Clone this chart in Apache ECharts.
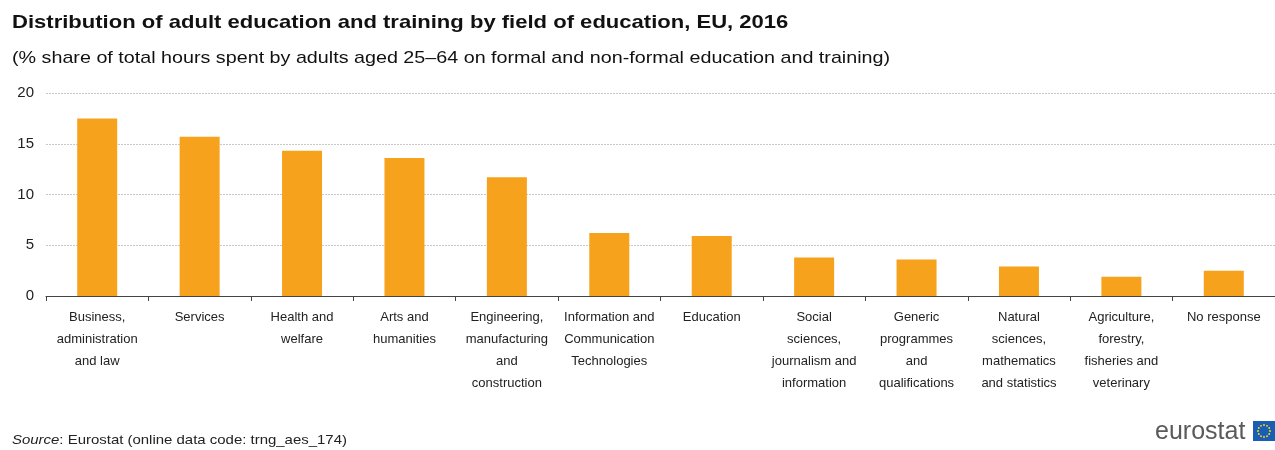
<!DOCTYPE html>
<html>
<head>
<meta charset="utf-8">
<script src="https://cdn.jsdelivr.net/npm/echarts@6/dist/echarts.min.js"></script>
<style>
html,body{margin:0;padding:0;background:#fff;}
#chart{width:1275px;height:450px;}
</style>
</head>
<body>
<div id="chart"></div>
<script>
// categories and values (% share of total hours)
var fields = [
	'Business,\nadministration\nand law',
	'Services',
	'Health and\nwelfare',
	'Arts and\nhumanities',
	'Engineering,\nmanufacturing\nand\nconstruction',
	'Information and\nCommunication\nTechnologies',
	'Education',
	'Social\nsciences,\njournalism and\ninformation',
	'Generic\nprogrammes\nand\nqualifications',
	'Natural\nsciences,\nmathematics\nand statistics',
	'Agriculture,\nforestry,\nfisheries and\nveterinary',
	'No response'
];
var shares = [17.5, 15.7, 14.3, 13.6, 11.7, 6.2, 5.9, 3.8, 3.6, 2.9, 1.9, 2.5];
var yTicks = [0, 5, 10, 15, 20];

var fnt = "'Liberation Sans',Arial,sans-serif";

// EU flag stars round a circle
var stars = [];
for (var i = 0; i < 12; i++) {
	var a = i * Math.PI / 6;
	stars.push({
		type: 'circle',
		shape: {cx: 1264 + 6 * Math.cos(a), cy: 431 + 6 * Math.sin(a), r: 0.9},
		style: {fill: '#ffe500'}
	});
}

var myChar = echarts.init(document.getElementById('chart'));
var option = {
	backgroundColor: '#fff',
	animation: false,
	grid: {
		left: 46,
		right: 0,
		top: 93,
		bottom: 154
	},
	xAxis: {
		type: 'category',
		data: fields,
		axisLine: {lineStyle: {color: '#444', width: 1}},
		axisTick: {show: true, length: 5, lineStyle: {color: '#444'}},
		axisLabel: {
			interval: 0,
			margin: 10,
			fontFamily: fnt,
			fontSize: 13,
			lineHeight: 22,
			color: '#222'
		}
	},
	yAxis: {
		type: 'value',
		min: yTicks[0],
		max: yTicks[yTicks.length - 1],
		interval: 5,
		axisLine: {show: false},
		axisTick: {show: false},
		axisLabel: {
			margin: 12,
			fontFamily: fnt,
			fontSize: 15,
			color: '#222'
		},
		splitLine: {lineStyle: {color: '#c8c8c8', type: [2, 1], width: 1}}
	},
	series: [
		{
			name: 'Share',
			type: 'bar',
			data: shares,
			barWidth: 40,
			itemStyle: {color: '#f6a21c'}
		}
	],
	graphic: [
		{
			type: 'text',
			x: 12, y: 13, scaleX: 1.16,
			style: {
				text: 'Distribution of adult education and training by field of education, EU, 2016',
				font: "bold 19px 'Liberation Sans',Arial,sans-serif",
				fill: '#111',
				textVerticalAlign: 'top'
			}
		},
		{
			type: 'text',
			x: 12, y: 50, scaleX: 1.16,
			style: {
				text: '(% share of total hours spent by adults aged 25\u201364 on formal and non-formal education and training)',
				font: "17px 'Liberation Sans',Arial,sans-serif",
				fill: '#111',
				textVerticalAlign: 'top'
			}
		},
		{
			type: 'text',
			x: 12, y: 434, scaleX: 1.15,
			style: {
				text: '{i|Source}: Eurostat (online data code: trng_aes_174)',
				font: "13px 'Liberation Sans',Arial,sans-serif",
				fill: '#222',
				textVerticalAlign: 'top',
				rich: {
					i: {fontStyle: 'italic', fontFamily: fnt, fontSize: 13, fill: '#222'}
				}
			}
		},
		{
			type: 'text',
			x: 1155, y: 420,
			style: {
				text: 'eurostat',
				font: "25px 'Liberation Sans',Arial,sans-serif",
				fill: '#5a5a5a',
				textVerticalAlign: 'top'
			}
		},
		{
			type: 'rect',
			shape: {x: 1253, y: 421, width: 22, height: 20},
			style: {fill: '#1a5db4'}
		}
	].concat(stars)
};
myChar.setOption(option);
</script>
</body>
</html>
